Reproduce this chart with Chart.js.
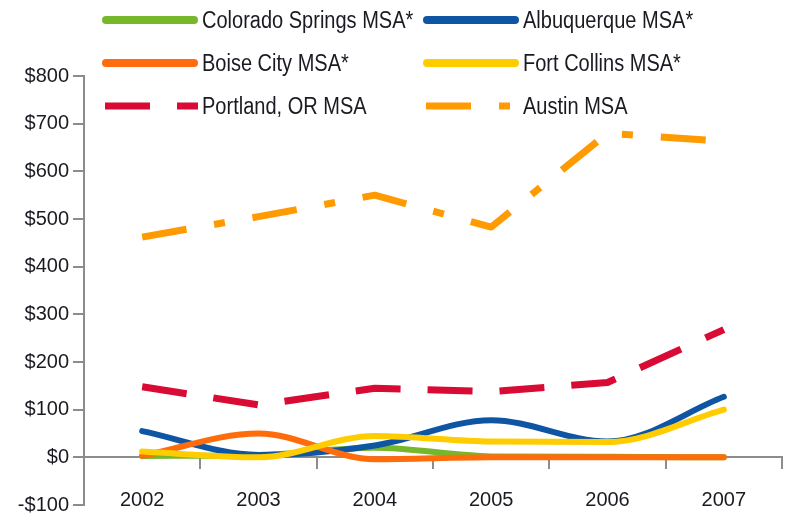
<!DOCTYPE html>
<html>
<head>
<meta charset="utf-8">
<script src="https://cdn.jsdelivr.net/npm/chart.js@4.4.1/dist/chart.umd.min.js"></script>
<style>
    body { margin: 0; background: #fff; }
    #wrap { position: relative; width: 789px; height: 515px; }
    #legend { position: absolute; left: 0; top: 0; width: 789px; height: 130px; pointer-events: none; }
    .item { position: absolute; height: 30px; display: flex; align-items: center; }
    .item span { font-family: "Liberation Sans", Arial, sans-serif; font-size: 23px; color: #1a1a22; margin-left: 4px; white-space: nowrap;
                 display: inline-block; transform: scaleX(0.87); transform-origin: left center; }
</style>
</head>
<body>
<div id="wrap">
    <canvas id="chart" width="789" height="515"></canvas>
    <div id="legend"></div>
</div>
<script>
const years = ['2002', '2003', '2004', '2005', '2006', '2007'];
const yTicks = [-100, 0, 100, 200, 300, 400, 500, 600, 700, 800];

const coloradoSprings = [3, 5, 20, 2, 1, 0];
const albuquerque = [55, 5, 25, 78, 33, 127];
const boiseCity = [3, 50, -4, 0, 0, 0];
const fortCollins = [12, 0, 45, 33, 32, 100];
const portland = [148, 110, 145, 138, 157, 268];
const austin = [462, 505, 550, 483, 680, 663];

const seriesNames = ['Colorado Springs MSA*', 'Albuquerque MSA*', 'Boise City MSA*', 'Fort Collins MSA*', 'Portland, OR MSA', 'Austin MSA'];
const seriesValues = [coloradoSprings, albuquerque, boiseCity, fortCollins, portland, austin];

// styling
const colors = ['#77b72b', '#0e56a4', '#ff6c0c', '#ffcc00', '#d90a33', '#ff9a00'];
const dashes = [[], [], [], [], [45, 27], [45, 28, 11, 28]];
const drawOrder = [4, 3, 1, 0, 5, 6]; // lower = on top
const axisGray = '#8c8c8c';
const font = { family: '"Liberation Sans", Arial, sans-serif', size: 20 };

const datasets = seriesNames.map((name, i) => {
    const dashed = dashes[i].length > 0;
    return {
        label: name,
        data: seriesValues[i],
        borderColor: colors[i],
        backgroundColor: colors[i],
        borderWidth: dashed ? 7 : 6,
        borderDash: dashes[i],
        borderCapStyle: dashed ? 'butt' : 'round',
        borderJoinStyle: 'round',
        cubicInterpolationMode: dashed ? 'default' : 'monotone',
        tension: 0,
        pointRadius: 0,
        order: drawOrder[i],
        fill: false
    };
});

new Chart(document.getElementById('chart'), {
    type: 'line',
    data: { labels: years, datasets: datasets },
    options: {
        responsive: false,
        animation: false,
        layout: { padding: { left: 0, right: 7, top: 76, bottom: 10 } },
        plugins: { legend: { display: false }, tooltip: { enabled: false } },
        scales: {
            x: {
                position: { y: 0 },
                offset: true,
                grid: { display: true, offset: true, drawOnChartArea: false, drawTicks: true, tickLength: 11, color: axisGray, lineWidth: 2 },
                border: { display: true, color: axisGray, width: 2 },
                ticks: { color: '#1a1a22', font: font, padding: 20, maxRotation: 0 },
                afterFit: s => { s.paddingLeft = 0; s.paddingRight = 0; }
            },
            y: {
                min: -100,
                max: 800,
                afterBuildTicks: s => { s.ticks = yTicks.map(v => ({ value: v })); },
                afterFit: s => { s.width = 84; s.paddingTop = 0; s.paddingBottom = 0; },
                grid: { drawOnChartArea: false, drawTicks: true, tickLength: 11, color: axisGray, lineWidth: 2 },
                border: { display: true, color: axisGray, width: 2 },
                ticks: {
                    color: '#1a1a22',
                    font: font,
                    padding: 4,
                    callback: v => (v < 0 ? '-$' : '$') + Math.abs(v)
                }
            }
        }
    }
});

// --- Legend (two columns, three rows, overlapping the plot top) ---
const legend = document.getElementById('legend');
const colX = [102, 423];
const rowY = [20, 63, 106];
seriesNames.forEach((name, i) => {
    const item = document.createElement('div');
    item.className = 'item';
    item.style.left = colX[i % 2] + 'px';
    item.style.top = (rowY[Math.floor(i / 2)] - 15) + 'px';
    const dashed = dashes[i].length > 0;
    const svgNS = 'http://www.w3.org/2000/svg';
    const svg = document.createElementNS(svgNS, 'svg');
    svg.setAttribute('width', '96');
    svg.setAttribute('height', '12');
    const line = document.createElementNS(svgNS, 'line');
    line.setAttribute('x1', dashed ? '3' : '4');
    line.setAttribute('x2', dashed ? '96' : '92');
    line.setAttribute('y1', '6');
    line.setAttribute('y2', '6');
    line.setAttribute('stroke', colors[i]);
    line.setAttribute('stroke-width', dashed ? '7' : '8');
    line.setAttribute('stroke-linecap', dashed ? 'butt' : 'round');
    if (dashed) line.setAttribute('stroke-dasharray', dashes[i].join(' '));
    svg.appendChild(line);
    const label = document.createElement('span');
    label.textContent = name;
    item.appendChild(svg);
    item.appendChild(label);
    legend.appendChild(item);
});
</script>
</body>
</html>
